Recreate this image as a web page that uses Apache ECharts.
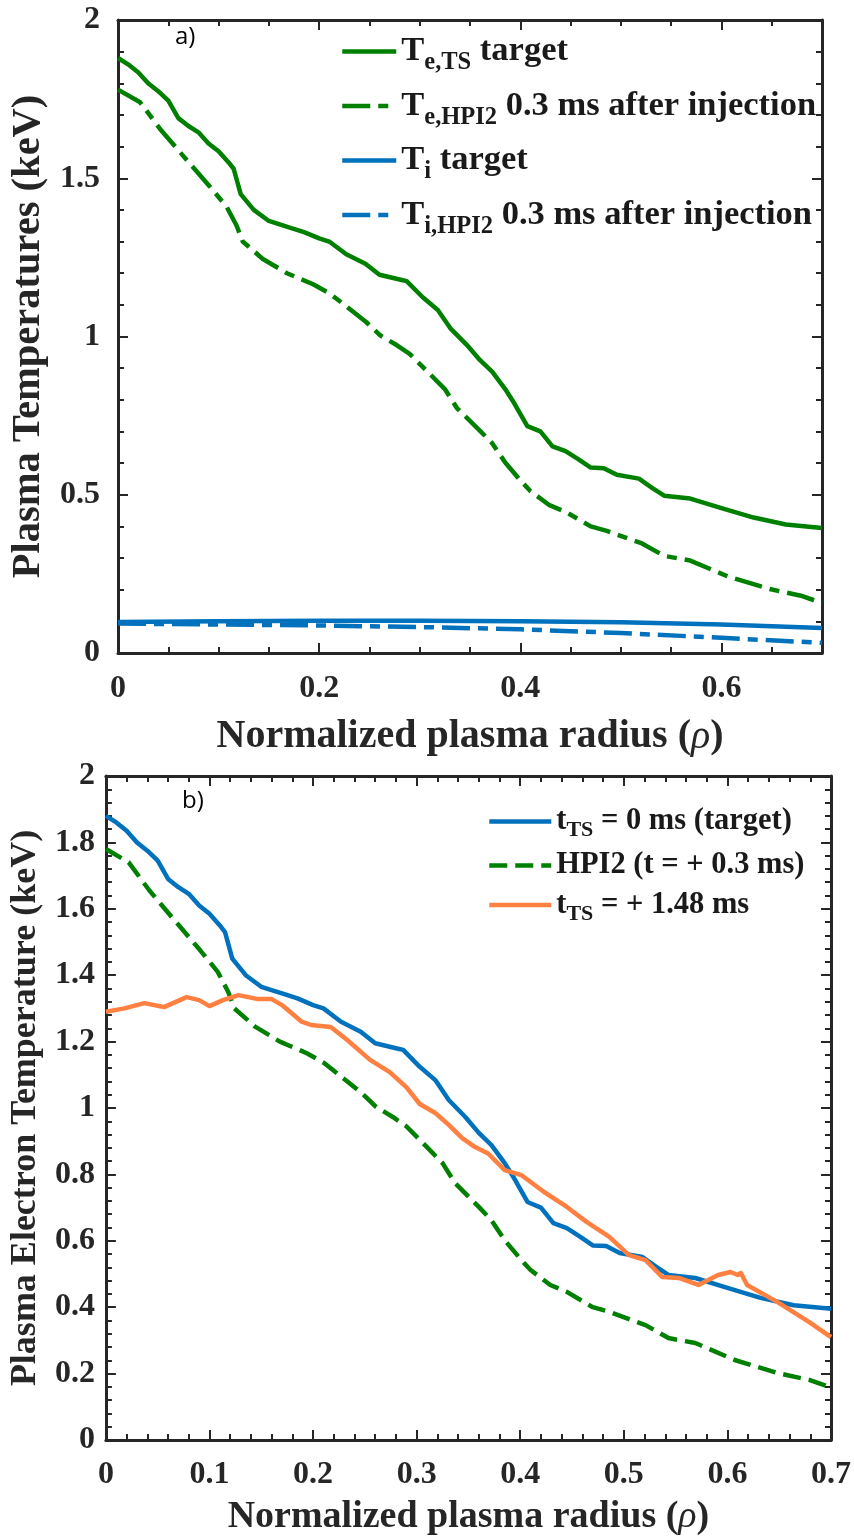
<!DOCTYPE html>
<html>
<head>
<meta charset="utf-8">
<title>Plasma temperatures</title>
<script src="https://cdn.jsdelivr.net/npm/echarts@6/dist/echarts.min.js"></script>
<style>
    html, body { margin: 0; padding: 0; background: #fff; }
    #chart { width: 854px; height: 1539px; }
</style>
</head>
<body>
<div id="chart"></div>
<script>
// 数据从原图读出 (rho, keV)
const rhoTeTarget = [0, 0.01, 0.02, 0.03, 0.04, 0.05, 0.06, 0.07, 0.08, 0.09, 0.1, 0.11, 0.115, 0.122, 0.135, 0.15, 0.17, 0.185, 0.2, 0.21, 0.227, 0.246, 0.26, 0.28, 0.287, 0.303, 0.318, 0.331, 0.347, 0.36, 0.372, 0.385, 0.394, 0.407, 0.42, 0.432, 0.445, 0.458, 0.47, 0.483, 0.496, 0.518, 0.531, 0.543, 0.569, 0.6, 0.632, 0.664, 0.7];
const teTarget = [1.88, 1.86, 1.835, 1.8, 1.775, 1.745, 1.69, 1.665, 1.645, 1.61, 1.585, 1.55, 1.53, 1.45, 1.4, 1.365, 1.345, 1.33, 1.31, 1.3, 1.26, 1.23, 1.195, 1.18, 1.175, 1.124, 1.084, 1.024, 0.973, 0.925, 0.889, 0.834, 0.789, 0.717, 0.7, 0.653, 0.638, 0.612, 0.586, 0.584, 0.563, 0.551, 0.522, 0.497, 0.488, 0.458, 0.428, 0.406, 0.395];

const rhoHpi2 = [0, 0.022, 0.042, 0.065, 0.091, 0.108, 0.118, 0.124, 0.144, 0.168, 0.194, 0.211, 0.231, 0.247, 0.261, 0.277, 0.29, 0.309, 0.325, 0.337, 0.36, 0.372, 0.385, 0.401, 0.41, 0.429, 0.445, 0.47, 0.486, 0.521, 0.543, 0.569, 0.607, 0.648, 0.679, 0.7];
const teHpi2 = [1.78, 1.74, 1.655, 1.57, 1.475, 1.41, 1.35, 1.3, 1.245, 1.2, 1.165, 1.135, 1.085, 1.045, 1.003, 0.973, 0.945, 0.885, 0.834, 0.774, 0.702, 0.663, 0.602, 0.542, 0.512, 0.467, 0.446, 0.4, 0.386, 0.346, 0.307, 0.292, 0.241, 0.202, 0.181, 0.158];

const rhoTi = [0, 0.1, 0.2, 0.3, 0.4, 0.5, 0.6, 0.7];
const tiTarget = [0.098, 0.1, 0.102, 0.102, 0.1, 0.097, 0.09, 0.079];
const tiHpi2 = [0.093, 0.09, 0.087, 0.082, 0.075, 0.063, 0.048, 0.032];

const rhoTe148 = [0, 0.018, 0.037, 0.056, 0.078, 0.09, 0.1, 0.113, 0.128, 0.147, 0.16, 0.17, 0.189, 0.198, 0.217, 0.233, 0.255, 0.274, 0.29, 0.303, 0.318, 0.331, 0.344, 0.356, 0.369, 0.385, 0.401, 0.423, 0.445, 0.464, 0.486, 0.505, 0.521, 0.537, 0.553, 0.572, 0.591, 0.603, 0.61, 0.613, 0.619, 0.648, 0.679, 0.7];
const te148 = [1.29, 1.3, 1.316, 1.304, 1.334, 1.325, 1.307, 1.325, 1.34, 1.328, 1.328, 1.31, 1.26, 1.25, 1.244, 1.205, 1.145, 1.108, 1.063, 1.012, 0.985, 0.949, 0.909, 0.883, 0.863, 0.813, 0.798, 0.747, 0.702, 0.657, 0.612, 0.557, 0.542, 0.491, 0.488, 0.467, 0.497, 0.506, 0.497, 0.503, 0.467, 0.416, 0.355, 0.31];

// 图例文字 (下标用 rich text)
const topNames = ["Te,TS target", "Te,HPI2 0.3 ms after injection", "Ti target", "Ti,HPI2 0.3 ms after injection"];
const topLabels = ["{t|T}{s|e,TS}{t| target}", "{t|T}{s|e,HPI2}{t| 0.3 ms after injection}", "{t|T}{s|i}{t| target}", "{t|T}{s|i,HPI2}{t| 0.3 ms after injection}"];
const bottomNames = ["tTS = 0 ms (target)", "HPI2 (t = + 0.3 ms)", "tTS = + 1.48 ms"];
const bottomLabels = ["{t|t}{s|TS}{t| = 0 ms (target)}", "{t|HPI2 (t = + 0.3 ms)}", "{t|t}{s|TS}{t| = + 1.48 ms}"];

const GREEN = "#008000";
const BLUE = "#0072BD";
const ORANGE = "#FF8040";
const AXIS = "#262626";
const SERIF = "'Liberation Serif', 'Times New Roman', serif";

const pairs = (xs, ys) => xs.map((x, i) => [x, ys[i]]);

const lineSeries = (name, xs, ys, color, type, xi, yi) => ({
    name: name,
    type: "line",
    xAxisIndex: xi,
    yAxisIndex: yi,
    symbol: "none",
    showSymbol: false,
    animation: false,
    lineStyle: { color: color, width: 4.5, type: type, cap: "butt", join: "round" },
    itemStyle: { color: color },
    data: pairs(xs, ys)
});

// 轴：主刻度 + 次刻度，四边都有刻度
const xAxisDef = (grid, pos, opts) => Object.assign({
    gridIndex: grid,
    type: "value",
    position: pos,
    min: 0,
    max: 0.7,
    splitLine: { show: false },
    axisLine: { show: true, onZero: false, lineStyle: { color: AXIS, width: 3 } },
    axisTick: { show: true, inside: true, length: 10, lineStyle: { color: AXIS, width: 2 } },
    axisLabel: { show: false }
}, opts);

const yAxisDef = (grid, pos, opts) => Object.assign({
    gridIndex: grid,
    type: "value",
    position: pos,
    min: 0,
    max: 2,
    splitLine: { show: false },
    axisLine: { show: true, onZero: false, lineStyle: { color: AXIS, width: 3 } },
    axisTick: { show: true, inside: true, length: 10, lineStyle: { color: AXIS, width: 2 } },
    minorTick: { show: true, splitNumber: 5, length: 6, lineStyle: { color: AXIS, width: 2 } },
    axisLabel: { show: false }
}, opts);

const tickLabel = size => ({
    show: true,
    fontFamily: SERIF,
    fontWeight: "bold",
    fontSize: size,
    color: AXIS
});

const xName = size => ({
    name: "{n|Normalized plasma radius (}{i|ρ}{n|)}",
    nameLocation: "middle",
    nameTextStyle: {
        rich: {
            n: { fontFamily: SERIF, fontWeight: "bold", fontSize: size, color: AXIS, lineHeight: 44 },
            i: { fontFamily: SERIF, fontStyle: "italic", fontSize: size, color: AXIS, lineHeight: 44 }
        }
    }
});

const yName = (text, size) => ({
    name: "{n|" + text + "}",
    nameLocation: "middle",
    nameTextStyle: {
        rich: {
            n: { fontFamily: SERIF, fontWeight: "bold", fontSize: size, color: AXIS, lineHeight: size + 4 }
        }
    }
});

const legendDef = (names, labels, left, top, iconW, mainSize, subSize, lineH, gap) => {
    const lookup = {};
    names.forEach((n, i) => { lookup[n] = labels[i]; });
    return {
        orient: "vertical",
        left: left,
        top: top,
        itemWidth: iconW,
        itemHeight: 14,
        itemGap: gap,
        selectedMode: false,
        data: names,
        itemStyle: { opacity: 0 },
        lineStyle: { width: 4.5 },
        formatter: name => lookup[name],
        textStyle: {
            rich: {
                t: { fontFamily: SERIF, fontWeight: "bold", fontSize: mainSize, color: "#1a1a1a", lineHeight: lineH },
                s: { fontFamily: SERIF, fontWeight: "bold", fontSize: subSize, color: "#1a1a1a", lineHeight: subSize, verticalAlign: "bottom" }
            }
        }
    };
};

const getGraphOption = () => {
    const fmt02 = v => {
        const k = v / 0.2;
        return Math.abs(k - Math.round(k)) < 1e-6 && v < 0.65 ? String(+v.toFixed(1)) : "";
    };
    return {
        backgroundColor: "#fff",
        animation: false,
        grid: [
            { left: 118, top: 20, width: 704, height: 633 },
            { left: 101, top: 776, width: 735, height: 664 }
        ],
        xAxis: [
            // a) 面板
            xAxisDef(0, "bottom", Object.assign({
                interval: 0.05,
                axisTick: { show: true, inside: true, length: 6, lineStyle: { color: AXIS, width: 2 } },
                axisLabel: Object.assign(tickLabel(32), { margin: 20, formatter: fmt02 }),
                nameGap: 62
            }, xName(40))),
            xAxisDef(0, "bottom", { interval: 0.2, axisLine: { show: false, onZero: false } }),
            xAxisDef(0, "top", {
                interval: 0.05,
                axisTick: { show: true, inside: true, length: 6, lineStyle: { color: AXIS, width: 2 } }
            }),
            xAxisDef(0, "top", { interval: 0.2, axisLine: { show: false, onZero: false } }),
            // b) 面板
            xAxisDef(1, "bottom", Object.assign({
                interval: 0.1,
                minorTick: { show: true, splitNumber: 5, length: 6, lineStyle: { color: AXIS, width: 2 } },
                axisLabel: Object.assign(tickLabel(32), { margin: 19 }),
                nameGap: 55
            }, xName(38))),
            xAxisDef(1, "top", {
                interval: 0.1,
                minorTick: { show: true, splitNumber: 5, length: 6, lineStyle: { color: AXIS, width: 2 } }
            })
        ],
        yAxis: [
            yAxisDef(0, "left", Object.assign({
                interval: 0.5,
                axisLabel: Object.assign(tickLabel(32), { margin: 18 }),
                nameGap: 66
            }, yName("Plasma Temperatures (keV)", 40.5))),
            yAxisDef(0, "right", { interval: 0.5 }),
            yAxisDef(1, "left", Object.assign({
                interval: 0.2,
                axisLabel: Object.assign(tickLabel(32), { margin: 11 }),
                nameGap: 57
            }, yName("Plasma Electron Temperature (keV)", 36))),
            yAxisDef(1, "right", { interval: 0.2 })
        ],
        legend: [
            legendDef(topNames, topLabels, 335, 29, 54, 34.5, 24.5, 48, 13),
            legendDef(bottomNames, bottomLabels, 482, 801, 62, 30.5, 22, 40, 8.5)
        ],
        graphic: [
            { type: "text", left: 175, top: 25, style: { text: "a)", fontFamily: "Open Sans", fontSize: 24, fill: "#000" } },
            { type: "text", left: 182, top: 789, style: { text: "b)", fontFamily: "Open Sans", fontSize: 24, fill: "#000" } }
        ],
        series: [
            lineSeries(topNames[0], rhoTeTarget, teTarget, GREEN, "solid", 0, 0),
            lineSeries(topNames[1], rhoHpi2, teHpi2, GREEN, [28, 8, 10, 8], 0, 0),
            lineSeries(topNames[2], rhoTi, tiTarget, BLUE, "solid", 0, 0),
            lineSeries(topNames[3], rhoTi, tiHpi2, BLUE, [28, 8, 10, 8], 0, 0),
            lineSeries(bottomNames[0], rhoTeTarget, teTarget, BLUE, "solid", 4, 2),
            lineSeries(bottomNames[1], rhoHpi2, teHpi2, GREEN, [18, 8], 4, 2),
            lineSeries(bottomNames[2], rhoTe148, te148, ORANGE, "solid", 4, 2)
        ]
    };
};

const chart = echarts.init(document.getElementById("chart"), null, { renderer: "canvas" });
chart.setOption(getGraphOption());
</script>
</body>
</html>
